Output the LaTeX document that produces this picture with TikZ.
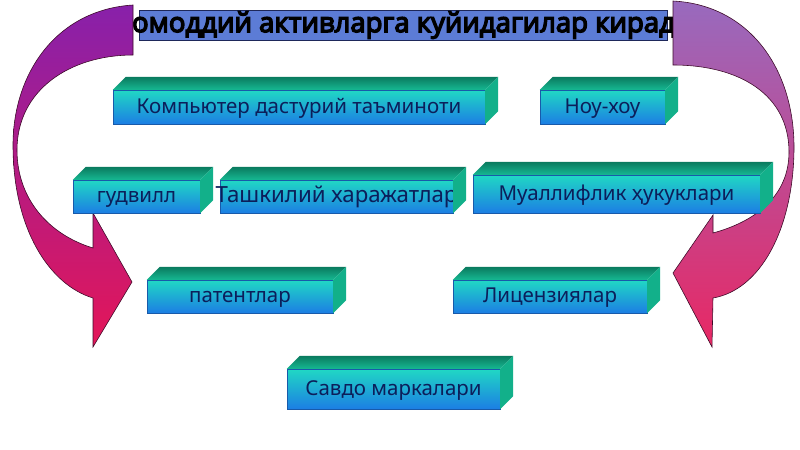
\documentclass[tikz,border=0pt]{standalone}
\usepackage{fontspec}
\setmainfont{Noto Sans}
\newfontfamily\headfont{Open Sans}[AutoFakeBold=5]
\usetikzlibrary{positioning}

\newlength\unitpx
\setlength\unitpx{0.03cm}

\definecolor{titlefill}{RGB}{92,124,214}
\definecolor{titleline}{RGB}{30,40,90}
\definecolor{facetop}{RGB}{32,216,196}
\definecolor{facebot}{RGB}{28,126,228}
\definecolor{lidback}{RGB}{10,122,94}
\definecolor{lidfront}{RGB}{22,184,146}
\definecolor{sidecol}{RGB}{18,176,138}
\definecolor{edgeblue}{RGB}{24,90,170}
\definecolor{labelnavy}{RGB}{12,30,90}
\definecolor{leftarrtop}{RGB}{136,32,170}
\definecolor{leftarrbot}{RGB}{228,22,88}
\definecolor{rightarrtop}{RGB}{152,106,190}
\definecolor{rightarrbot}{RGB}{232,40,100}
\definecolor{arrline}{RGB}{60,10,40}

\begin{document}
\begin{tikzpicture}[
  x=0.03cm, y=-0.03cm,
  font=\fontsize{17.5}{20}\selectfont,
  slab/.style={draw=edgeblue, line width=0.3pt, top color=facetop, bottom color=facebot,
    text=labelnavy, inner xsep=0pt, inner ysep=0pt, text height=1.1em, text depth=0pt,
    minimum height=34\unitpx},
  lid/.style={top color=lidback, bottom color=lidfront},
  side/.style={fill=sidecol},
  bigarrow/.style={draw=arrline, line width=0.5pt}
]
\useasboundingbox (0,0) rectangle (800,450);

% Title bar
\node[draw=titleline, fill=titlefill, minimum width=528\unitpx, minimum height=30\unitpx, inner sep=0pt] (titlebar) at (403,25) {};
\node[font=\headfont\bfseries\fontsize{23.5}{26}\selectfont] (title) at (402,25) {Номоддий активларга куйидагилар киради};

% Curved arrows (left and right)
\draw[bigarrow, top color=leftarrtop, bottom color=leftarrbot]
  (133,5) .. controls (55,10) and (13,75) .. (13,145)
  .. controls (13,230) and (50,285) .. (93,298)
  -- (93,347) -- (132,282) -- (93,213) -- (93,248)
  .. controls (50,235) and (17,200) .. (17,150)
  .. controls (17,90) and (70,55) .. (133,55) -- cycle;
\draw[bigarrow, top color=rightarrtop, bottom color=rightarrbot]
  (673,1) .. controls (750,5) and (795,70) .. (794,150)
  .. controls (793,230) and (760,290) .. (713,298)
  -- (712,347) -- (673,273) -- (713,215) -- (713,233)
  .. controls (757,221) and (789,195) .. (789,152)
  .. controls (789,95) and (740,65) .. (673,65) -- cycle;

% Boxes (front faces)
\node[slab, minimum width=372\unitpx] (software) at (299,107) {Компьютер дастурий таъминоти};
\node[slab, minimum width=125\unitpx] (knowhow) at (602.5,107) {Ноу-хоу};
\node[slab, minimum width=127\unitpx, minimum height=33\unitpx] (goodwill) at (136.5,196.5) {гудвилл};
\node[slab, minimum width=233\unitpx, minimum height=33\unitpx, inner xsep=-8pt,
  font=\fontsize{19}{21}\selectfont] (orgcost) at (336.5,196.5) {Ташкилий харажатлар};
\node[slab, minimum width=287\unitpx, minimum height=38\unitpx] (copyright) at (616.5,194) {Муаллифлик ҳукуклари};
\node[slab, minimum width=186\unitpx, minimum height=33\unitpx] (patents) at (240,296.5) {патентлар};
\node[slab, minimum width=194\unitpx, minimum height=33\unitpx] (licenses) at (550,296.5) {Лицензиялар};
\node[slab, minimum width=213\unitpx, minimum height=40\unitpx] (trademarks) at (393.5,389) {Савдо маркалари};

% Top and side faces
\foreach \n in {software,knowhow,goodwill,orgcost,copyright,patents,licenses,trademarks}{
  \path[lid] (\n.north west) -- ++(13,-13) -- ([shift={(13,-13)}]\n.north east) -- (\n.north east) -- cycle;
  \path[side] (\n.north east) -- ++(13,-13) -- ([shift={(13,-13)}]\n.south east) -- (\n.south east) -- cycle;
}

\end{tikzpicture}
\end{document}
